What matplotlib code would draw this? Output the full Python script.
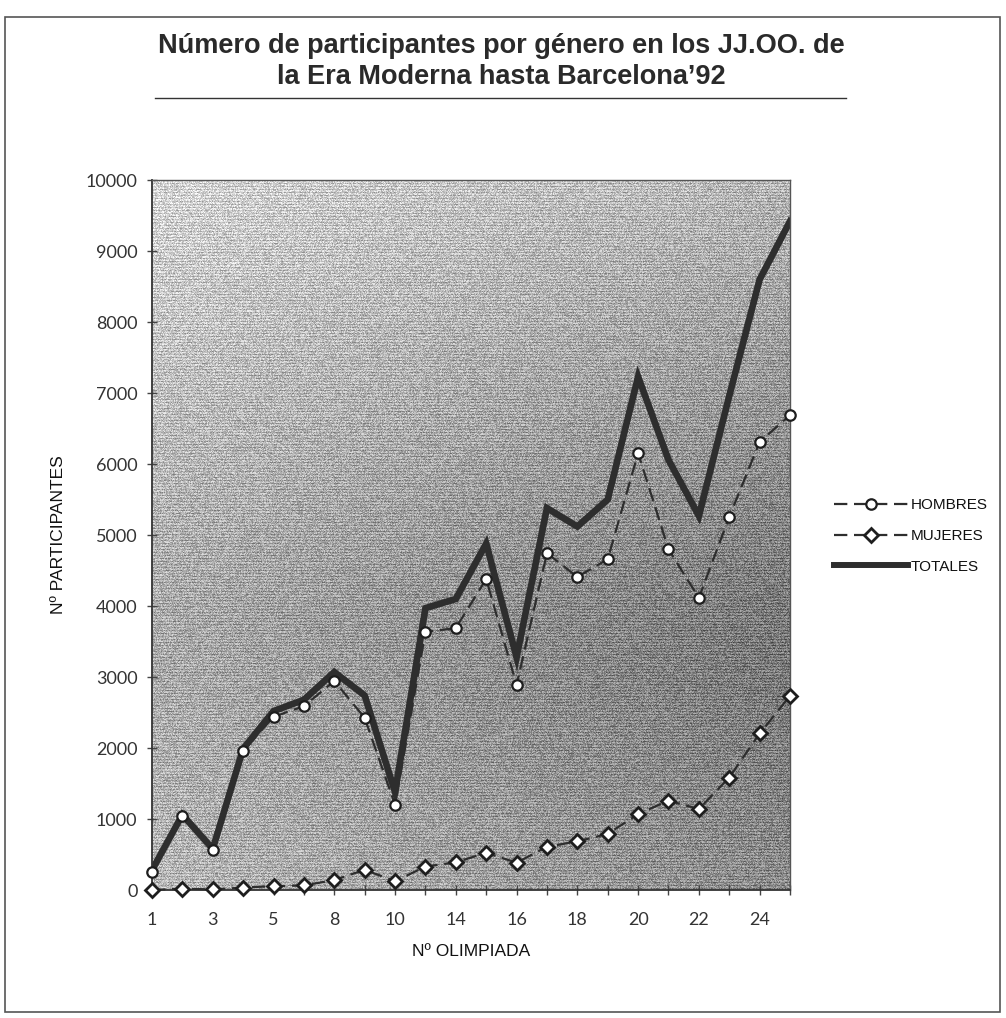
import numpy as np
import matplotlib
matplotlib.use("Agg")
import matplotlib.pyplot as plt
from matplotlib.patches import Rectangle
from matplotlib.lines import Line2D

# Olympiads held (6, 12 and 13 were never celebrated)
olimpiadas = [1, 2, 3, 4, 5, 7, 8, 9, 10, 11, 14, 15, 16, 17, 18, 19, 20, 21, 22, 23, 24, 25]
hombres = [260, 1040, 560, 1960, 2440, 2590, 2945, 2425, 1200, 3635, 3690, 4380,
           2890, 4745, 4410, 4660, 6155, 4800, 4115, 5255, 6310, 6690]
mujeres = [0, 20, 8, 35, 55, 65, 140, 285, 125, 330, 390, 525,
           385, 610, 685, 790, 1070, 1260, 1140, 1585, 2205, 2735]
totales = [280, 1060, 580, 1990, 2520, 2680, 3070, 2740, 1380, 3970, 4100, 4880,
           3280, 5380, 5120, 5500, 7230, 6060, 5270, 6960, 8600, 9420]

yticks = [0, 1000, 2000, 3000, 4000, 5000, 6000, 7000, 8000, 9000, 10000]

titulo = u"Número de participantes por género en los JJ.OO. de\nla Era Moderna hasta Barcelona\u201992"

narrow = ['Liberation Sans Narrow', 'Liberation Sans', 'DejaVu Sans']
num_font = ['Lato', 'DejaVu Sans']

fig = plt.figure(figsize=(10.06, 10.18), dpi=100)
ax = fig.add_axes([0.1511, 0.1257, 0.6342, 0.6974])

# grey shaded backdrop with horizontal scan texture
h, w = 710, 638
jj, ii = np.meshgrid(np.arange(w), np.arange(h))
u = jj / (w - 1.0)
v = ii / (h - 1.0)
g = np.clip(v / 0.6, 0, 1) - 0.3 * np.clip((v - 0.7) / 0.3, 0, 1)
lum = 0.84 - 0.12 * u - 0.16 * g - 0.08 * u * g
grain = np.sin(ii * 12.9898 + jj * 78.233) * 43758.5453
grain = grain - np.floor(grain)
stripes = np.where(ii % 3 == 0, -0.09, 0.03)
tex = np.clip(lum + 0.30 * (grain - 0.5) + stripes, 0, 1)
ax.imshow(tex, cmap='gray', vmin=0, vmax=1, extent=[0, 1, 0, 1],
          transform=ax.transAxes, aspect='auto', zorder=0, interpolation='nearest')

x = np.arange(len(olimpiadas))

ax.plot(x, totales, color='#2e2e2e', lw=4.8, solid_joinstyle='miter', zorder=2)
ax.plot(x, hombres, color='#2e2e2e', lw=1.6, ls=(0, (6, 3)), marker='o', ms=7.5,
        mfc='white', mec='#1e1e1e', mew=1.6, zorder=3, clip_on=False)
ax.plot(x, mujeres, color='#2e2e2e', lw=1.6, ls=(0, (6, 3)), marker='D', ms=7,
        mfc='white', mec='#1e1e1e', mew=2.0, zorder=4, clip_on=False)

ax.set_xlim(0, len(olimpiadas) - 1)
ax.set_ylim(0, 10000)
ax.set_xticks(x)
ax.set_xticklabels([str(o) if i % 2 == 0 else '' for i, o in enumerate(olimpiadas)],
                   family=num_font, fontsize=13, color='#333333')
ax.set_yticks(yticks)
ax.set_yticklabels([str(t) for t in yticks], family=num_font, fontsize=13, color='#333333')
ax.tick_params(axis='both', direction='inout', length=7, width=1, color='#444444')
ax.tick_params(axis='x', pad=12)
ax.tick_params(axis='y', pad=7)
for s in ax.spines.values():
    s.set_color('#555555')
    s.set_linewidth(1)
for s in ['left', 'bottom']:
    ax.spines[s].set_color('#333333')
    ax.spines[s].set_linewidth(1.3)

ax.set_ylabel(u"Nº PARTICIPANTES", family=narrow, fontsize=12.5, color='#111111', labelpad=14)
ax.set_xlabel(u"Nº OLIMPIADA", family=narrow, fontsize=12.5, color='#111111', labelpad=12)

fig.text(0.498, 0.940, titulo, ha='center', va='center', fontsize=19.5, weight='bold',
         family=['Liberation Sans', 'DejaVu Sans'], color='#2a2a2a', linespacing=1.25)
fig.add_artist(Line2D([0.154, 0.841], [0.904, 0.904], transform=fig.transFigure,
                      color='#333333', lw=1))

# page border
fig.add_artist(Rectangle((0.005, 0.006), 0.989, 0.977, transform=fig.transFigure,
                         fill=False, ec='#555555', lw=1.2))

handles = [
    Line2D([], [], color='#2e2e2e', lw=1.6, ls=(0, (6, 3)), marker='o', ms=7.5,
           mfc='white', mec='#1e1e1e', mew=1.6),
    Line2D([], [], color='#2e2e2e', lw=1.6, ls=(0, (6, 3)), marker='D', ms=7,
           mfc='white', mec='#1e1e1e', mew=2.0),
    Line2D([], [], color='#2e2e2e', lw=4.3),
]
leg = fig.legend(handles, ['HOMBRES', 'MUJERES', 'TOTALES'], loc='center left',
                 bbox_to_anchor=(0.821, 0.4735), frameon=False, handlelength=4.9,
                 handletextpad=0.15, labelspacing=1.1, borderpad=0,
                 prop={'family': narrow, 'size': 11})
for t in leg.get_texts():
    t.set_color('#111111')

fig.savefig('out.png', dpi=100, facecolor='white')
